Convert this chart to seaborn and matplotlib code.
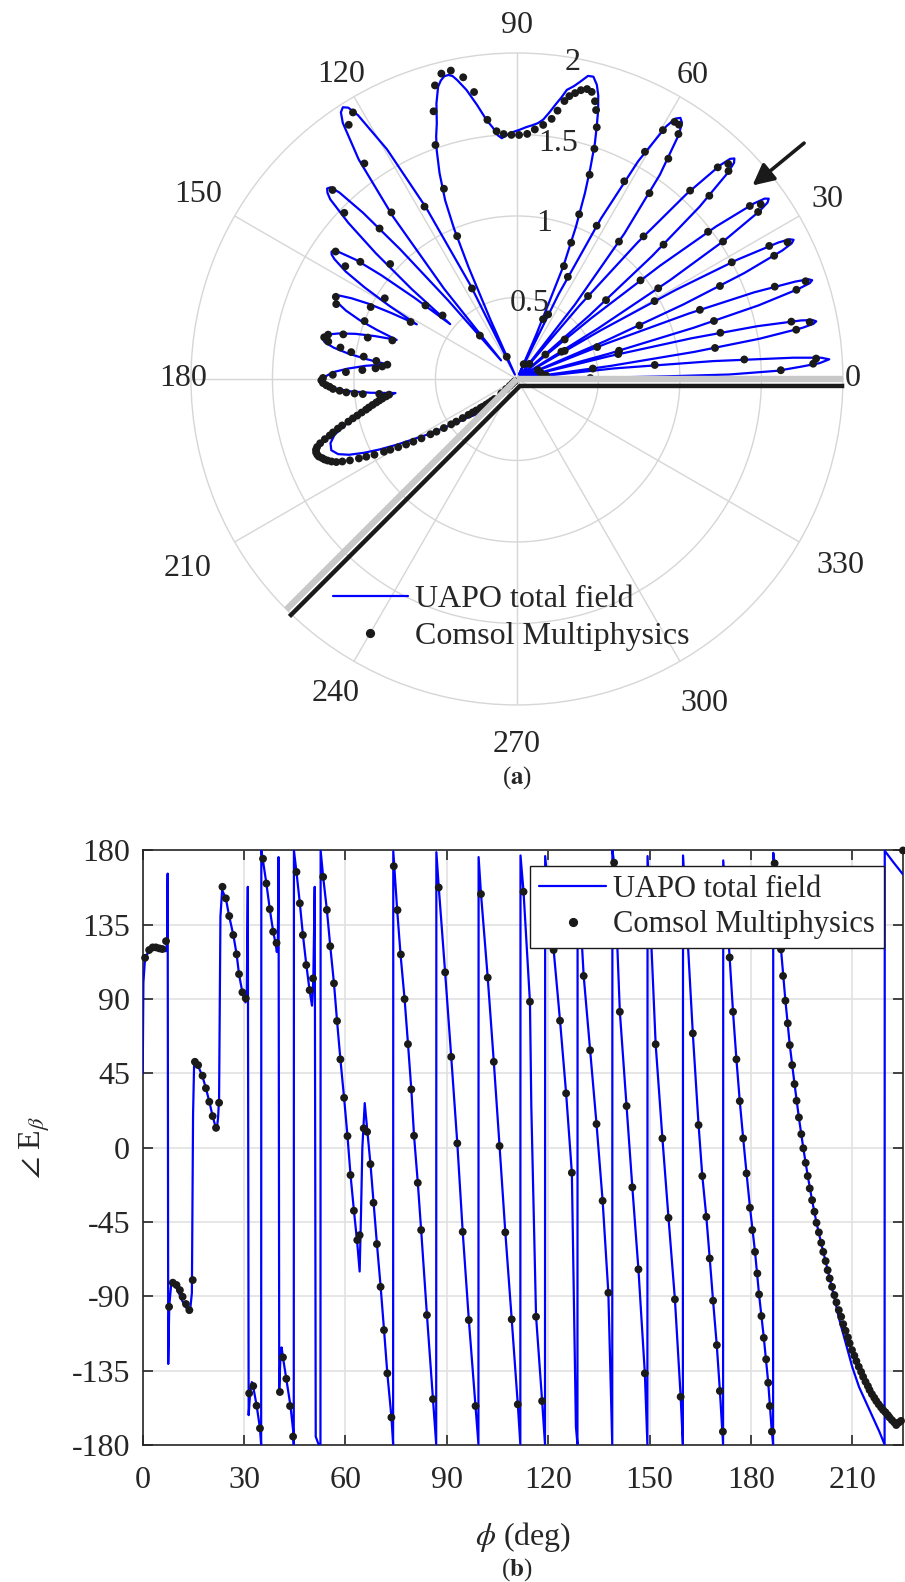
import numpy as np
import matplotlib
matplotlib.use("Agg")
import matplotlib.pyplot as plt
import matplotlib.transforms as mtransforms
from matplotlib.lines import Line2D
import seaborn as sns

# ---------------- data ----------------
LEGEND_LABELS = ["UAPO total field", "Comsol Multiphysics"]
ANGLE_TICKS = list(range(0, 360, 30))
RING_TICKS = [0.5, 1.0, 1.5, 2.0]
RING_LABELS = ["0.5", "1", "1.5", "2"]
WEDGE_FACES_DEG = [0, 225]
ARROW_PHI_DEG = 39.4
ARROW_R = [1.87, 2.28]
PHASE_XTICKS = [0, 30, 60, 90, 120, 150, 180, 210]
PHASE_YTICKS = [-180, -135, -90, -45, 0, 45, 90, 135, 180]

# UAPO total field magnitude (polar, panel a)
UAPO_POLAR_PHI = [
    0.0, 0.6, 1.0, 1.2, 1.8, 2.5, 3.0, 3.6, 4.0, 4.4, 5.2, 6.2, 7.2,
    7.94, 8.68, 9.42, 10.16, 10.53, 10.9, 11.27, 11.64, 12.38, 13.12, 13.86, 14.6,
    15.38, 16.16, 16.94, 17.72, 18.11, 18.5, 18.89, 19.28, 20.06, 20.84, 21.62, 22.4,
    23.26, 24.12, 24.98, 25.84, 26.27, 26.7, 27.13, 27.56, 28.42, 29.28, 30.14, 31.0,
    31.92, 32.84, 33.76, 34.68, 35.14, 35.6, 36.06, 36.52, 37.44, 38.36, 39.28, 40.2,
    41.24, 42.28, 43.32, 44.36, 44.88, 45.4, 45.92, 46.44, 47.48, 48.52, 49.56, 50.6,
    52.07, 53.54, 55.01, 56.48, 57.22, 57.95, 58.69, 59.42, 60.89, 62.36, 63.83, 65.3,
    66.5, 67.6, 68.8, 69.9, 70.8, 71.7, 72.5, 73.2, 74.0, 74.8,
    75.8, 76.8, 78.0, 79.0, 80.2, 81.0, 82.0, 83.0, 84.2, 85.3,
    86.5, 88.0, 89.3, 91.5, 93.6, 94.5, 95.5, 96.7, 98.3, 99.9,
    101.3, 102.0, 102.7, 103.5, 104.3, 105.1, 106.3, 107.4, 108.4, 109.3,
    110.6, 111.9, 112.7, 113.4, 114.1, 114.8,
    116.37, 117.94, 119.51, 121.08, 121.87, 122.65, 123.44, 124.22, 125.79, 127.36, 128.93, 130.5,
    131.2, 132.0, 132.8, 133.6, 134.2, 134.9, 135.5, 136.1, 137.2, 138.3, 139.5, 140.6,
    141.6, 142.6, 143.5, 144.5, 145.0, 145.5, 146.1, 146.7, 147.9, 149.0, 150.2, 151.4,
    152.3, 153.1, 154.0, 154.8, 155.3, 155.7, 156.3, 156.9, 158.2, 159.5, 160.7, 162.0,
    163.2, 164.4, 165.7, 166.9, 167.5, 168.1, 168.7, 169.2, 170.3, 171.4, 172.5, 173.6,
    175.0, 176.5, 177.9, 179.4, 180.1, 180.8, 181.4, 182.0, 183.1, 184.3, 185.4, 186.6,
    188.7, 191.1, 193.0, 195.0, 197.0, 199.0, 201.0, 202.8, 204.3, 205.8,
    207.2, 208.7, 210.2, 212.2, 214.2, 216.2, 218.2, 220.5, 223.0, 225.0,
]
UAPO_POLAR_MAG = [
    0.0, 0.30, 0.90, 1.30, 1.60, 1.75, 1.86, 1.92, 1.87, 1.70, 1.21, 0.60, 0.03,
    0.58, 1.10, 1.51, 1.78, 1.85, 1.87, 1.85, 1.78, 1.51, 1.10, 0.58, 0.03,
    0.59, 1.13, 1.55, 1.81, 1.89, 1.91, 1.89, 1.81, 1.55, 1.13, 0.59, 0.03,
    0.59, 1.12, 1.54, 1.81, 1.88, 1.90, 1.88, 1.81, 1.54, 1.12, 0.59, 0.03,
    0.59, 1.12, 1.54, 1.81, 1.88, 1.90, 1.88, 1.81, 1.54, 1.12, 0.59, 0.03,
    0.59, 1.12, 1.54, 1.81, 1.88, 1.90, 1.88, 1.81, 1.54, 1.12, 0.59, 0.03,
    0.58, 1.11, 1.53, 1.80, 1.87, 1.89, 1.87, 1.80, 1.53, 1.11, 0.58, 0.03,
    0.30, 0.745, 1.00, 1.213, 1.37, 1.523, 1.63, 1.724, 1.81, 1.87,
    1.913, 1.91, 1.864, 1.83, 1.80, 1.75, 1.70, 1.65, 1.60, 1.575,
    1.56, 1.545, 1.53, 1.51, 1.48, 1.50, 1.55, 1.60, 1.70, 1.80,
    1.87, 1.90, 1.912, 1.91, 1.89, 1.857, 1.76, 1.644, 1.57, 1.49,
    1.35, 1.18, 1.00, 0.75, 0.40, 0.03,
    0.64, 1.19, 1.62, 1.89, 1.96, 1.98, 1.96, 1.90, 1.66, 1.25, 0.71, 0.15,
    0.64, 1.07, 1.39, 1.58, 1.64, 1.65, 1.63, 1.59, 1.41, 1.16, 0.85, 0.53,
    0.80, 1.05, 1.23, 1.34, 1.37, 1.38, 1.37, 1.34, 1.24, 1.09, 0.90, 0.70,
    0.87, 1.02, 1.13, 1.20, 1.22, 1.225, 1.22, 1.20, 1.13, 1.03, 0.91, 0.776,
    0.91, 1.03, 1.13, 1.20, 1.21, 1.21, 1.21, 1.20, 1.14, 1.05, 0.93, 0.80,
    0.93, 1.04, 1.13, 1.18, 1.19, 1.20, 1.19, 1.17, 1.11, 1.02, 0.90, 0.75,
    0.85, 0.93, 1.00, 1.09, 1.17, 1.21, 1.22, 1.19, 1.13, 1.04,
    0.945, 0.84, 0.736, 0.63, 0.521, 0.45, 0.38, 0.34, 0.31, 0.30,
]

# UAPO total field phase (panel b)
UAPO_PHASE_PHI = [
    0.0, 0.2, 0.6, 1.2, 2.5, 4.0, 5.5, 6.8, 7.2, 7.38, 7.55, 7.85, 8.5, 9.5, 10.5, 11.5,
    12.5, 13.5, 14.1, 14.55, 14.9, 15.2, 15.5, 16.5, 17.7, 18.7, 19.7, 20.7, 21.5, 21.9,
    22.3, 22.6, 23.0, 23.5, 24.6, 25.6, 26.8, 27.8, 28.5, 29.5, 30.4, 30.8, 31.1, 31.35,
    31.8, 32.3, 32.8, 33.7, 34.7, 35.05, 35.1, 35.5, 36.6, 37.6, 38.6, 39.3, 39.7, 40.0,
    40.2, 40.4, 40.8, 41.1, 41.5, 42.5, 43.7, 44.5, 44.7, 44.75, 45.5, 46.5, 47.4, 48.4,
    49.4, 50.1, 50.5, 50.9, 51.2, 52.0, 52.6, 52.65, 53.4, 54.5, 55.5, 56.6, 57.5, 58.5,
    59.6, 60.6, 61.5, 62.5, 63.5, 64.2, 64.6, 65.0, 65.7, 66.4, 67.4, 68.3, 69.3, 70.4,
    71.4, 72.4, 73.6, 74.1, 74.15,
    75.3, 76.3, 77.5, 78.5, 79.5, 80.3, 81.4, 82.4, 84.1, 85.9, 86.85, 86.9,
    87.6, 89.5, 91.3, 93.1, 94.7, 96.5, 98.5, 99.35, 99.4,
    100.1, 102.1, 103.9, 105.6, 107.3, 109.2, 111.0, 111.75, 111.8,
    112.7, 114.6, 115.0, 116.4, 118.2, 119.05, 119.1,
    121.6, 123.5, 125.3, 127.0, 128.2, 128.65, 128.7,
    130.5, 132.4, 134.3, 136.1, 137.8, 138.95, 139.0,
    139.5, 141.2, 143.2, 144.9, 146.7, 148.6, 149.35, 149.4,
    151.8, 153.8, 155.6, 157.5, 159.2, 159.85, 159.9,
    162.8, 164.5, 165.6, 166.8, 167.8, 168.8, 169.9, 170.8, 171.75, 171.8,
    173.7, 174.7, 175.7, 176.7, 177.7, 178.7, 179.7, 181.2, 182.4, 183.8, 185.1, 186.1,
    186.55, 186.6,
    187.0, 188.9, 190.2, 191.5, 192.9, 194.2, 195.5, 196.8, 198.1, 199.4, 200.8, 202.1,
    203.3, 204.7, 206.0, 208.0, 210.0, 212.0, 214.0, 216.0, 218.0, 219.55, 219.6, 222.1,
    225.0,
]
UAPO_PHASE_DEG = [
    45, 100, 112, 117, 119.5, 120, 119.5, 119, 124, 166, -131, -96, -81, -83, -87, -92,
    -96, -98.5, -97, -88, 20, 50, 53, 49, 43, 36, 28, 19, 13, 11,
    18, 30, 140, 156, 151, 140, 129, 117, 105, 94, 88, 95, 158, -162,
    -148, -142, -146, -156, -170, -180, 180, 175, 160, 144.5, 131, 124, 118.5, 126,
    176, -146, -125, -121, -127, -140, -156, -171, -180, 180, 167, 148, 129, 111,
    95, 86, 103, 158, -175, -179.5, -179.5, 180, 164, 144, 122, 99.5, 77, 53.5,
    30, 7, -16.6, -38, -58, -75, -40, 0, 27, 12, -10, -33, -58, -84,
    -110, -137, -163, -179.5, 179.5,
    144, 117, 90, 63, 35, 7, -21, -50, -101, -152, -179.5, 179,
    158, 106, 55, 2.6, -51, -104, -156.5, -179.5, 176,
    154, 103, 52, 1, -51, -104, -155.5, -179.5, 177,
    155, 88, 25, -102, -153.5, -179.5, 176.6,
    119.7, 76.9, 32.9, -15.2, -169, -179.5, 170,
    104, 59, 14.3, -32, -88, -179.5, 180,
    172.6, 82.3, 25.2, -24, -73.7, -136.7, -179.5, 176.6,
    62.6, 5.6, -42.5, -91.9, -150.9, -179.5, 177,
    69, 13.7, -17, -42, -67, -93, -120, -147, -179.5, 174,
    115, 82, 53.5, 28, 5.6, -15.6, -36, -63, -89, -115, -142, -170,
    -179.5, 178.6,
    172, 120, 89, 62, 38.5, 18, -0.4, -17, -32, -45.5, -58, -69,
    -79, -91, -103, -118, -133, -145, -154, -163, -172, -179.8, 179.8, 173,
    165.5,
]

# Comsol Multiphysics samples (both panels)
COMSOL_PHI = [
    0.7, 1.9, 2.95, 3.9, 4.9, 5.8, 6.9,
    7.8, 8.9, 10.0, 11.0, 11.8, 12.8, 13.8,
    14.8, 15.45, 16.4, 17.7, 18.7, 19.7, 20.7, 21.7,
    22.6, 23.6, 24.6, 25.6, 26.8, 27.8, 28.5, 29.5, 30.5,
    31.5, 32.7, 33.7, 34.7, 35.6, 36.6, 37.6, 38.6, 39.6,
    40.6, 41.5, 42.5, 43.6, 44.5, 45.5, 46.5, 47.4, 48.4, 49.4, 50.4,
    53.4, 54.5, 55.5, 56.6, 57.5, 58.5, 59.6, 60.6, 61.5, 62.5, 63.5, 64.2,
    65.4, 66.4, 67.4, 68.3, 69.3, 70.4, 71.4, 72.4, 73.6, 74.3,
    75.4, 76.4, 77.5, 78.5, 79.5, 80.3, 81.4, 82.4, 84.1, 85.9,
    87.6, 89.5, 91.3, 93.1, 94.7, 96.5, 98.5, 100.1, 102.1, 103.9,
    105.6, 107.3, 109.2, 111.0, 112.7, 114.6,
    116.4, 118.2, 121.6, 123.5, 125.3, 127.0,
    130.5, 132.4, 134.3, 136.1, 137.8,
    139.5, 141.2, 143.2, 144.9, 146.7, 148.6,
    151.8, 153.8, 155.6, 157.5, 159.2,
    162.8, 164.5, 165.6, 166.8, 167.8, 168.8, 169.9, 170.8, 171.7, 172.7,
    173.7, 174.7, 175.7, 176.7, 177.7, 178.7, 179.7, 180.4, 181.2, 181.9, 182.4, 183.1,
    183.8, 184.5, 185.1, 185.6, 186.2,
    187.0, 187.6, 188.3, 188.9, 189.5, 190.2, 190.9, 191.5, 192.2, 192.9,
    193.5, 194.2, 194.9, 195.5, 196.2, 196.8, 197.4, 198.1, 198.8, 199.4,
    200.1, 200.8, 201.4, 202.1, 202.7, 203.3, 204.0, 204.7, 205.3, 206.0,
    206.7, 207.3, 208.0, 208.7, 209.2, 209.9, 210.6, 211.2, 211.9, 212.6,
    213.2, 213.9, 214.6, 215.1, 215.8, 216.5, 217.1, 217.8, 218.5, 219.1,
    219.8, 220.5, 221.0, 221.7, 222.4, 223.0, 223.7, 224.4, 225.0,
]
COMSOL_MAG = [
    0.45, 1.62, 1.82, 1.84, 1.40, 0.85, 0.18,
    0.47, 1.23, 1.74, 1.83, 1.72, 1.28, 0.64,
    0.15, 0.65, 1.26, 1.80, 1.87, 1.68, 1.20, 0.53,
    0.14, 0.82, 1.37, 1.75, 1.86, 1.75, 1.50, 0.97, 0.34,
    0.32, 1.03, 1.52, 1.80, 1.84, 1.78, 1.48, 0.97, 0.38,
    0.23, 0.73, 1.22, 1.63, 1.82, 1.85, 1.79, 1.57, 1.17, 0.67, 0.12,
    1.05, 1.40, 1.64, 1.80, 1.85, 1.85, 1.77, 1.60, 1.38, 1.06, 0.70, 0.44,
    0.10, 0.40, 0.75, 0.90, 1.08, 1.33, 1.49, 1.62, 1.72, 1.77,
    1.82, 1.83, 1.815, 1.79, 1.765, 1.73, 1.665, 1.61, 1.567, 1.535,
    1.505, 1.497, 1.498, 1.505, 1.525, 1.60, 1.78, 1.88, 1.935, 1.93,
    1.87, 1.72, 1.52, 1.25, 0.95, 0.15,
    0.62, 1.20, 1.92, 1.87, 1.62, 1.28,
    0.35, 1.25, 1.62, 1.47, 1.05,
    0.60, 0.72, 1.20, 1.36, 1.26, 0.95,
    0.74, 1.00, 1.22, 1.20, 1.00,
    0.80, 0.95, 1.10, 1.19, 1.21, 1.18, 1.10, 1.03, 0.95, 0.87,
    0.80, 0.83, 0.87, 0.95, 1.05, 1.13, 1.19, 1.20, 1.19, 1.17, 1.15, 1.13,
    1.09, 1.05, 1.00, 0.95, 0.85,
    0.79, 0.81, 0.835, 0.855, 0.875, 0.90, 0.925, 0.945, 0.975, 1.005,
    1.035, 1.067, 1.11, 1.14, 1.175, 1.20, 1.235, 1.27, 1.295, 1.307,
    1.312, 1.31, 1.305, 1.29, 1.28, 1.265, 1.245, 1.22, 1.185, 1.14,
    1.085, 1.04, 0.99, 0.93, 0.89, 0.84, 0.79, 0.743, 0.69, 0.63,
    0.59, 0.54, 0.49, 0.455, 0.41, 0.37, 0.34, 0.315, 0.285, 0.27,
    0.245, 0.225, 0.205, 0.185, 0.13, 0.09, 0.06, 0.04, 0.02,
]
COMSOL_PHASE = [
    115, 119.7, 121.3, 121.3, 120.7, 120.3, 125.1,
    -96.4, -81.8, -83.2, -86.3, -90.3, -94.7, -98.4,
    -80.2, 52, 50, 43.6, 36, 27.8, 19.1, 12.0,
    27.2, 158, 151, 140.3, 128.8, 117.1, 105.1, 94.1, 90.4,
    -148.8, -144.4, -156.3, -170, 175, 160, 144.5, 130.8, 124,
    -148, -127, -140, -156.5, -175, 167, 148, 128.8, 110.6, 95.4, 102.5,
    164, 144, 122, 99.5, 76.7, 53.5, 30.2, 7, -16.6, -38.2, -56, -53,
    11.7, 9.6, -10, -33.4, -58.4, -84.3, -110.5, -136.7, -163.4, 170.5,
    143.9, 117, 90, 62.7, 35.3, 7.2, -21.3, -49.9, -101.4, -152.3,
    157.6, 106.2, 55, 2.6, -51, -104.4, -156.5, 153.6, 103, 52,
    1, -51.3, -104, -155.5, 155, 88.4,
    -102.4, -153.5, 119.7, 76.9, 32.9, -15.2,
    104, 59, 14.3, -32.2, -87.9,
    172.6, 82.3, 25.2, -24, -73.7, -136.7,
    62.6, 5.6, -42.5, -91.9, -150.9,
    69.2, 13.7, -17.2, -41.9, -67.1, -92.7, -119.6, -147.4, -172, 145,
    115.2, 82.3, 53.5, 28.2, 5.6, -15.6, -36.4, -49.9, -63.1, -76.2, -88.9, -102,
    -115.2, -128.2, -142.4, -156.5, -172,
    172.2, 155, 138, 120.1, 104, 89, 75.3, 62.1, 50, 38.5,
    28.4, 18.3, 8.2, -0.4, -9.2, -17.2, -24.7, -31.8, -38.8, -45.5,
    -51.3, -57.6, -63.1, -68.7, -74.2, -79.2, -84.3, -89.3, -93.7, -98.4,
    -102.4, -106.9, -110.9, -114.9, -118.5, -122.6, -126, -129.3, -132.7, -135.8,
    -138.8, -141.8, -144.4, -146.8, -149.3, -151.5, -153.5, -155.5, -157.3, -158.9,
    -160.3, -162, -163.4, -165, -166.4, -168, -166.6, -165.5, 180,
]

# ---------------- style ----------------
sns.set_theme(style="white")
plt.rcParams["font.family"] = ["Liberation Serif", "DejaVu Serif"]
plt.rcParams["mathtext.fontset"] = "stix"
FS = 23
TXT = (0.15, 0.15, 0.15)
BLUE = (0.0, 0.0, 1.0)
# radial placement of the angle labels (in r units), as laid out in the reference
THETA_LABEL_R = [2.06, 2.20, 2.15, 2.17, 2.16, 2.26, 2.05, 2.33, 2.23, 2.24, 2.30, 2.29]

fig = plt.figure(figsize=(9.05, 15.82), dpi=100)
fig.patch.set_facecolor("white")

# ---------------- panel (a): polar ----------------
pax = fig.add_axes([0.2110, 0.5544, 0.7204, 0.4121], projection="polar")
pax.set_facecolor("white")
sns.lineplot(x=np.deg2rad(UAPO_POLAR_PHI), y=UAPO_POLAR_MAG, ax=pax, sort=False,
             estimator=None, color=BLUE, lw=1.6, zorder=3)
sns.scatterplot(x=np.deg2rad(COMSOL_PHI), y=COMSOL_MAG, ax=pax, color="k", s=32,
                edgecolor="none", linewidth=0, zorder=4, legend=False)
pax.set_xlabel("")
pax.set_ylabel("")
pax.set_ylim(0, 2.0)
pax.set_yticks(RING_TICKS[:-1])
pax.set_yticklabels([])
pax.set_thetagrids(ANGLE_TICKS, labels=[""] * len(ANGLE_TICKS))
pax.grid(True, color="#d6d6d6", lw=1.0)
pax.spines["polar"].set_color("#d6d6d6")
pax.spines["polar"].set_linewidth(1.0)

for a, rr in zip(ANGLE_TICKS, THETA_LABEL_R):
    pax.text(np.deg2rad(a), rr, str(a), ha="center", va="center", fontsize=FS,
             color=TXT, clip_on=False, zorder=8)

for r, lab in zip(RING_TICKS, RING_LABELS):
    pax.text(np.deg2rad(80), r - 0.03, lab, ha="center", va="center",
             fontsize=FS, color=TXT, zorder=8)

for a in WEDGE_FACES_DEG:
    pax.plot([np.deg2rad(a)] * 2, [0, 2.0], color="#c8c8c8", lw=4.6,
             solid_capstyle="butt", zorder=6, clip_on=False)
off = mtransforms.offset_copy(pax.transData, fig=fig, x=3, y=-7, units="dots")
pax.plot(np.deg2rad([WEDGE_FACES_DEG[0], WEDGE_FACES_DEG[0], WEDGE_FACES_DEG[1]]),
         [1.99, 0.0, 2.0], color="k", lw=3.2, transform=off, zorder=7,
         clip_on=False, solid_joinstyle="miter", solid_capstyle="butt")

pax.annotate("", xy=(np.deg2rad(ARROW_PHI_DEG), ARROW_R[0]),
             xytext=(np.deg2rad(ARROW_PHI_DEG), ARROW_R[1]),
             arrowprops=dict(arrowstyle="-|>", color="k", lw=2.6,
                             mutation_scale=32, shrinkA=0, shrinkB=0),
             annotation_clip=False, zorder=9)

h_line = Line2D([], [], color=BLUE, lw=1.6)
h_dot = Line2D([], [], color="k", marker="o", ls="none", ms=5.6)
fig.legend([h_line, h_dot], LEGEND_LABELS, loc="upper left",
           bbox_to_anchor=(0.368, 0.6305), frameon=False, fontsize=FS,
           handlelength=2.34, handletextpad=0.22, labelspacing=0.25,
           borderpad=0, borderaxespad=0)

fig.text(0.5713, 0.5082, r"($\mathbf{a}$)", ha="center", va="center", fontsize=18)

# ---------------- panel (b): phase ----------------
ax = fig.add_axes([0.1577, 0.0867, 0.8401, 0.3757])
ax.set_facecolor("white")
sns.lineplot(x=UAPO_PHASE_PHI, y=UAPO_PHASE_DEG, ax=ax, sort=False, estimator=None,
             color=BLUE, lw=1.6, zorder=3)
sns.scatterplot(x=COMSOL_PHI, y=COMSOL_PHASE, ax=ax, color="k", s=32,
                edgecolor="none", linewidth=0, zorder=4, legend=False, clip_on=False)
ax.set_xlim(0, 225)
ax.set_ylim(-180, 180)
ax.set_xticks(PHASE_XTICKS)
ax.set_xticklabels([str(v) for v in PHASE_XTICKS])
ax.set_yticks(PHASE_YTICKS)
ax.set_yticklabels([str(v) for v in PHASE_YTICKS])
ax.grid(True, color="#e2e2e2", lw=1.2)
ax.set_axisbelow(True)
ax.tick_params(direction="in", length=7, width=1.2, top=True, right=True,
               bottom=True, left=True, labelsize=FS, colors=TXT)
ax.tick_params(axis="x", pad=15)
ax.tick_params(axis="y", pad=9)
for s in ax.spines.values():
    s.set_color(TXT)
    s.set_linewidth(1.2)
ax.set_xlabel(r"$\phi$ (deg)", fontsize=FS, color=TXT, labelpad=18)
ax.set_ylabel(r"$\angle$ E$_{\beta}$", fontsize=FS, color=TXT, labelpad=14)

leg = ax.legend([h_line, h_dot], LEGEND_LABELS, loc="upper right",
                bbox_to_anchor=(884 / 905, 1 - 866 / 1582),
                bbox_transform=fig.transFigure, frameon=True, fancybox=False,
                edgecolor="k", framealpha=1, fontsize=22, handlelength=2.2,
                handletextpad=0.22, labelspacing=0.2, borderpad=0.3,
                borderaxespad=0)
leg.get_frame().set_linewidth(1.0)
leg.set_zorder(10)

fig.text(0.5713, 0.0078, r"($\mathbf{b}$)", ha="center", va="center", fontsize=18)

fig.savefig("out.png", dpi=100, facecolor="white")
